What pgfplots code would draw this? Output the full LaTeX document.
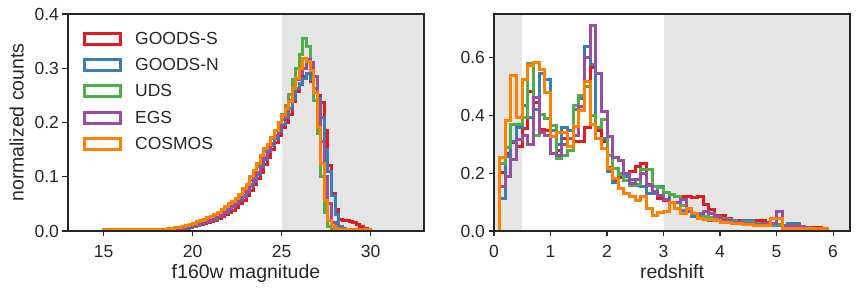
\documentclass[border=0pt]{standalone}
\usepackage{fontspec}
\setmainfont{Liberation Sans}
\usepackage{pgfplots}
\pgfplotsset{compat=1.18}
\definecolor{cRed}{HTML}{E41A1C}
\definecolor{cBlue}{HTML}{377EB8}
\definecolor{cGreen}{HTML}{4DAF4A}
\definecolor{cPurple}{HTML}{984EA3}
\definecolor{cOrange}{HTML}{FF7F00}
\definecolor{txt}{HTML}{262626}
\definecolor{shade}{RGB}{229,229,229}
\pgfplotsset{
  mystyle/.style={
    scale only axis, width=356pt, height=217pt,
    axis on top,
    axis line style={txt, line width=1.1pt},
    tick align=outside, major tick length=5.5pt,
    every tick/.style={txt, line width=1.1pt},
    xtick pos=bottom, ytick pos=left,
    tick label style={font=\fontsize{17.5}{21}\selectfont, text=txt},
    xticklabel style={yshift=-5pt},
    label style={font=\fontsize{19.5}{23}\selectfont, text=txt},
    /pgf/number format/assume math mode=true,
    scaled ticks=false,
    legend image code/.code={\draw[##1] (0pt,-5.5pt) rectangle (36pt,5.5pt);},
  },
  stepline/.style={const plot, line width=3pt, line join=miter, draw=#1},
}
\begin{document}
\begin{tikzpicture}
\useasboundingbox (-68pt,-60pt) rectangle (794pt,231pt);
% ---------------- left panel ----------------
\begin{axis}[mystyle,
  xmin=13, xmax=33, ymin=0, ymax=0.4,
  xtick={15,20,25,30}, ytick={0,0.1,0.2,0.3,0.4},
  yticklabel style={/pgf/number format/.cd, fixed, fixed zerofill, precision=1},
  xlabel={f160w magnitude}, ylabel={normalized counts},
  ylabel shift=4pt,
  legend style={draw=none, fill=none, at={(0,1)}, anchor=north west,
    xshift=12pt, yshift=-14pt, font=\fontsize{17.5}{21}\selectfont, text=txt,
    row sep=8.5pt, /tikz/every odd column/.append style={column sep=11pt}},
  legend cell align=left,
]
\addplot[fill=shade, draw=none, forget plot] coordinates {(25,0) (34,0) (34,0.5) (25,0.5)} -- cycle;
% GOODS-S
\addplot[stepline=cRed] coordinates {(15.0,0) (15.0,0.002) (15.2,0.002) (15.4,0.002) (15.6,0.002) (15.8,0.002) (16.0,0.002) (16.2,0.002) (16.4,0.002) (16.6,0.002) (16.8,0.002) (17.0,0.002) (17.2,0.002) (17.4,0.002) (17.6,0.002) (17.8,0.002) (18.0,0.002) (18.2,0.002) (18.4,0.002) (18.6,0.002) (18.8,0.002) (19.0,0.002) (19.2,0.002) (19.4,0.002) (19.6,0.004) (19.8,0.006) (20.0,0.008) (20.2,0.010) (20.4,0.012) (20.6,0.014) (20.8,0.016) (21.0,0.018) (21.2,0.020) (21.4,0.023) (21.6,0.026) (21.8,0.030) (22.0,0.034) (22.2,0.038) (22.4,0.044) (22.6,0.050) (22.8,0.057) (23.0,0.065) (23.2,0.075) (23.4,0.085) (23.6,0.096) (23.8,0.108) (24.0,0.122) (24.2,0.136) (24.4,0.150) (24.6,0.163) (24.8,0.176) (25.0,0.190) (25.2,0.200) (25.4,0.215) (25.6,0.238) (25.8,0.258) (26.0,0.270) (26.2,0.285) (26.4,0.290) (26.6,0.275) (26.8,0.262) (27.0,0.250) (27.2,0.236) (27.4,0.185) (27.6,0.120) (27.8,0.070) (28.0,0.040) (28.2,0.022) (28.4,0.020) (28.6,0.019) (28.8,0.018) (29.0,0.016) (29.2,0.012) (29.4,0.008) (29.6,0.005) (29.8,0.005) (29.8,0)};
\addlegendentry{GOODS-S}
% GOODS-N
\addplot[stepline=cBlue] coordinates {(15.0,0) (15.0,0.002) (15.2,0.002) (15.4,0.002) (15.6,0.002) (15.8,0.002) (16.0,0.002) (16.2,0.002) (16.4,0.002) (16.6,0.002) (16.8,0.002) (17.0,0.002) (17.2,0.002) (17.4,0.002) (17.6,0.002) (17.8,0.002) (18.0,0.002) (18.2,0.002) (18.4,0.002) (18.6,0.002) (18.8,0.002) (19.0,0.002) (19.2,0.002) (19.4,0.003) (19.6,0.005) (19.8,0.007) (20.0,0.009) (20.2,0.011) (20.4,0.013) (20.6,0.015) (20.8,0.017) (21.0,0.019) (21.2,0.022) (21.4,0.026) (21.6,0.030) (21.8,0.035) (22.0,0.040) (22.2,0.045) (22.4,0.050) (22.6,0.056) (22.8,0.064) (23.0,0.072) (23.2,0.082) (23.4,0.092) (23.6,0.104) (23.8,0.118) (24.0,0.132) (24.2,0.146) (24.4,0.158) (24.6,0.170) (24.8,0.183) (25.0,0.196) (25.2,0.210) (25.4,0.225) (25.6,0.245) (25.8,0.262) (26.0,0.272) (26.2,0.282) (26.4,0.290) (26.6,0.280) (26.8,0.262) (27.0,0.245) (27.2,0.210) (27.4,0.150) (27.6,0.110) (27.8,0.065) (28.0,0.030) (28.2,0.008) (28.4,0.004) (28.6,0.002) (28.8,0.002) (29.0,0.002) (29.2,0.002) (29.4,0.002) (29.6,0.002) (29.8,0.002) (29.8,0)};
\addlegendentry{GOODS-N}
% UDS
\addplot[stepline=cGreen] coordinates {(15.0,0) (15.0,0.002) (15.2,0.002) (15.4,0.002) (15.6,0.002) (15.8,0.002) (16.0,0.002) (16.2,0.002) (16.4,0.002) (16.6,0.002) (16.8,0.002) (17.0,0.002) (17.2,0.002) (17.4,0.002) (17.6,0.002) (17.8,0.002) (18.0,0.002) (18.2,0.002) (18.4,0.002) (18.6,0.002) (18.8,0.002) (19.0,0.004) (19.2,0.005) (19.4,0.006) (19.6,0.008) (19.8,0.010) (20.0,0.012) (20.2,0.014) (20.4,0.016) (20.6,0.018) (20.8,0.020) (21.0,0.022) (21.2,0.026) (21.4,0.030) (21.6,0.035) (21.8,0.040) (22.0,0.045) (22.2,0.050) (22.4,0.055) (22.6,0.063) (22.8,0.072) (23.0,0.082) (23.2,0.094) (23.4,0.106) (23.6,0.118) (23.8,0.132) (24.0,0.146) (24.2,0.158) (24.4,0.170) (24.6,0.185) (24.8,0.200) (25.0,0.215) (25.2,0.232) (25.4,0.252) (25.6,0.280) (25.8,0.300) (26.0,0.325) (26.2,0.354) (26.4,0.340) (26.6,0.300) (26.8,0.240) (27.0,0.180) (27.2,0.100) (27.4,0.035) (27.6,0.008) (27.8,0.003) (28.0,0.002) (28.2,0.002) (28.4,0.002) (28.6,0.002) (28.8,0.002) (29.0,0.002) (29.0,0)};
\addlegendentry{UDS}
% EGS
\addplot[stepline=cPurple] coordinates {(15.2,0) (15.2,0.001) (15.4,0.001) (15.6,0.001) (15.8,0.001) (16.0,0.001) (16.2,0.001) (16.4,0.001) (16.6,0.001) (16.8,0.001) (17.0,0.001) (17.2,0.001) (17.4,0.001) (17.6,0.001) (17.8,0.001) (18.0,0.001) (18.2,0.001) (18.4,0.001) (18.6,0.001) (18.8,0.001) (19.0,0.001) (19.2,0.003) (19.4,0.004) (19.6,0.006) (19.8,0.008) (20.0,0.010) (20.2,0.012) (20.4,0.014) (20.6,0.016) (20.8,0.018) (21.0,0.020) (21.2,0.023) (21.4,0.027) (21.6,0.031) (21.8,0.036) (22.0,0.041) (22.2,0.046) (22.4,0.052) (22.6,0.058) (22.8,0.066) (23.0,0.074) (23.2,0.085) (23.4,0.096) (23.6,0.108) (23.8,0.122) (24.0,0.136) (24.2,0.150) (24.4,0.162) (24.6,0.176) (24.8,0.190) (25.0,0.205) (25.2,0.220) (25.4,0.240) (25.6,0.262) (25.8,0.280) (26.0,0.290) (26.2,0.300) (26.4,0.316) (26.6,0.310) (26.8,0.285) (27.0,0.235) (27.2,0.165) (27.4,0.100) (27.6,0.050) (27.8,0.015) (28.0,0.006) (28.2,0.003) (28.4,0.003) (28.6,0.003) (28.8,0.003) (29.0,0.003) (29.2,0.003) (29.4,0.003) (29.6,0.003) (29.8,0.003) (29.8,0)};
\addlegendentry{EGS}
% COSMOS
\addplot[stepline=cOrange] coordinates {(15.0,0) (15.0,0.003) (15.2,0.003) (15.4,0.003) (15.6,0.003) (15.8,0.003) (16.0,0.003) (16.2,0.003) (16.4,0.003) (16.6,0.003) (16.8,0.003) (17.0,0.003) (17.2,0.003) (17.4,0.003) (17.6,0.003) (17.8,0.003) (18.0,0.003) (18.2,0.003) (18.4,0.003) (18.6,0.004) (18.8,0.005) (19.0,0.006) (19.2,0.007) (19.4,0.008) (19.6,0.010) (19.8,0.012) (20.0,0.014) (20.2,0.017) (20.4,0.020) (20.6,0.021) (20.8,0.024) (21.0,0.027) (21.2,0.030) (21.4,0.034) (21.6,0.040) (21.8,0.046) (22.0,0.050) (22.2,0.054) (22.4,0.060) (22.6,0.068) (22.8,0.078) (23.0,0.086) (23.2,0.100) (23.4,0.112) (23.6,0.125) (23.8,0.140) (24.0,0.152) (24.2,0.160) (24.4,0.172) (24.6,0.186) (24.8,0.200) (25.0,0.212) (25.2,0.225) (25.4,0.238) (25.6,0.262) (25.8,0.282) (26.0,0.300) (26.2,0.318) (26.4,0.312) (26.6,0.296) (26.8,0.255) (27.0,0.190) (27.2,0.125) (27.4,0.057) (27.6,0.020) (27.8,0.008) (28.0,0.004) (28.2,0.003) (28.4,0.003) (28.6,0.003) (28.8,0.003) (29.0,0.003) (29.2,0.003) (29.4,0.003) (29.6,0.003) (29.8,0.002) (30.0,0.002) (30.0,0)};
\addlegendentry{COSMOS}
\end{axis}
% ---------------- right panel ----------------
\begin{axis}[mystyle, at={(426pt,0pt)},
  xmin=0, xmax=6.3, ymin=0, ymax=0.752,
  xtick={0,1,2,3,4,5,6}, ytick={0,0.2,0.4,0.6},
  yticklabel style={/pgf/number format/.cd, fixed, fixed zerofill, precision=1},
  xlabel={redshift},
]
\addplot[fill=shade, draw=none, forget plot] coordinates {(-1,0) (0.5,0) (0.5,1) (-1,1)} -- cycle;
\addplot[fill=shade, draw=none, forget plot] coordinates {(3,0) (7,0) (7,1) (3,1)} -- cycle;
% GOODS-S
\addplot[stepline=cRed] coordinates {(0.1,0) (0.1,0.203) (0.2,0.268) (0.3,0.305) (0.4,0.294) (0.5,0.355) (0.6,0.485) (0.7,0.447) (0.8,0.352) (0.9,0.350) (1.0,0.350) (1.1,0.280) (1.2,0.320) (1.3,0.320) (1.4,0.310) (1.5,0.310) (1.6,0.360) (1.7,0.565) (1.8,0.350) (1.9,0.310) (2.0,0.220) (2.1,0.176) (2.2,0.185) (2.3,0.195) (2.4,0.205) (2.5,0.224) (2.6,0.234) (2.7,0.160) (2.8,0.130) (2.9,0.113) (3.0,0.107) (3.1,0.100) (3.2,0.100) (3.3,0.119) (3.4,0.119) (3.5,0.115) (3.6,0.119) (3.7,0.093) (3.8,0.073) (3.9,0.055) (4.0,0.055) (4.1,0.044) (4.2,0.038) (4.3,0.035) (4.4,0.030) (4.5,0.030) (4.6,0.035) (4.7,0.035) (4.8,0.030) (4.9,0.025) (5.0,0.020) (5.1,0.018) (5.2,0.015) (5.3,0.015) (5.4,0.013) (5.5,0.013) (5.6,0.012) (5.7,0.012) (5.8,0.010) (5.9,0.010) (5.9,0)};
% GOODS-N
\addplot[stepline=cBlue] coordinates {(0.1,0) (0.1,0.113) (0.2,0.258) (0.3,0.310) (0.4,0.360) (0.5,0.435) (0.6,0.395) (0.7,0.420) (0.8,0.547) (0.9,0.524) (1.0,0.350) (1.1,0.300) (1.2,0.358) (1.3,0.350) (1.4,0.420) (1.5,0.460) (1.6,0.640) (1.7,0.576) (1.8,0.320) (1.9,0.320) (2.0,0.205) (2.1,0.168) (2.2,0.200) (2.3,0.188) (2.4,0.178) (2.5,0.159) (2.6,0.153) (2.7,0.130) (2.8,0.130) (2.9,0.153) (3.0,0.110) (3.1,0.128) (3.2,0.118) (3.3,0.070) (3.4,0.068) (3.5,0.050) (3.6,0.042) (3.7,0.040) (3.8,0.035) (3.9,0.040) (4.0,0.045) (4.1,0.035) (4.2,0.035) (4.3,0.030) (4.4,0.035) (4.5,0.035) (4.6,0.025) (4.7,0.025) (4.8,0.025) (4.9,0.020) (5.0,0.020) (5.1,0.015) (5.2,0.025) (5.3,0.025) (5.4,0.015) (5.5,0.012) (5.6,0.010) (5.7,0.010) (5.8,0.008) (5.9,0.008) (5.9,0)};
% UDS
\addplot[stepline=cGreen] coordinates {(0.1,0) (0.1,0.234) (0.2,0.290) (0.3,0.370) (0.4,0.370) (0.5,0.395) (0.6,0.581) (0.7,0.330) (0.8,0.403) (0.9,0.389) (1.0,0.366) (1.1,0.250) (1.2,0.260) (1.3,0.280) (1.4,0.435) (1.5,0.470) (1.6,0.500) (1.7,0.400) (1.8,0.358) (1.9,0.387) (2.0,0.262) (2.1,0.216) (2.2,0.197) (2.3,0.176) (2.4,0.159) (2.5,0.160) (2.6,0.213) (2.7,0.213) (2.8,0.155) (2.9,0.150) (3.0,0.132) (3.1,0.128) (3.2,0.119) (3.3,0.090) (3.4,0.070) (3.5,0.060) (3.6,0.052) (3.7,0.050) (3.8,0.048) (3.9,0.046) (4.0,0.044) (4.1,0.040) (4.2,0.032) (4.3,0.030) (4.4,0.030) (4.5,0.028) (4.6,0.025) (4.7,0.024) (4.8,0.020) (4.9,0.024) (5.0,0.024) (5.1,0.015) (5.2,0.015) (5.3,0.010) (5.4,0.010) (5.5,0.010) (5.6,0.008) (5.7,0.008) (5.8,0.006) (5.9,0.006) (5.9,0)};
% EGS
\addplot[stepline=cPurple] coordinates {(0.1,0) (0.1,0.154) (0.2,0.190) (0.3,0.249) (0.4,0.318) (0.5,0.330) (0.6,0.300) (0.7,0.464) (0.8,0.343) (0.9,0.330) (1.0,0.270) (1.1,0.260) (1.2,0.300) (1.3,0.320) (1.4,0.330) (1.5,0.430) (1.6,0.600) (1.7,0.712) (1.8,0.547) (1.9,0.414) (2.0,0.326) (2.1,0.254) (2.2,0.245) (2.3,0.200) (2.4,0.165) (2.5,0.178) (2.6,0.200) (2.7,0.159) (2.8,0.136) (2.9,0.124) (3.0,0.110) (3.1,0.100) (3.2,0.100) (3.3,0.110) (3.4,0.070) (3.5,0.062) (3.6,0.060) (3.7,0.067) (3.8,0.060) (3.9,0.050) (4.0,0.040) (4.1,0.035) (4.2,0.030) (4.3,0.030) (4.4,0.025) (4.5,0.025) (4.6,0.022) (4.7,0.022) (4.8,0.025) (4.9,0.025) (5.0,0.069) (5.1,0.020) (5.2,0.020) (5.3,0.020) (5.4,0.015) (5.5,0.010) (5.6,0.010) (5.7,0.010) (5.8,0.008) (5.9,0.008) (5.9,0)};
% COSMOS
\addplot[stepline=cOrange] coordinates {(0.1,0) (0.1,0.253) (0.2,0.383) (0.3,0.539) (0.4,0.395) (0.5,0.524) (0.6,0.573) (0.7,0.583) (0.8,0.560) (0.9,0.481) (1.0,0.326) (1.1,0.340) (1.2,0.340) (1.3,0.294) (1.4,0.363) (1.5,0.418) (1.6,0.518) (1.7,0.370) (1.8,0.320) (1.9,0.286) (2.0,0.216) (2.1,0.182) (2.2,0.147) (2.3,0.130) (2.4,0.119) (2.5,0.107) (2.6,0.119) (2.7,0.078) (2.8,0.055) (2.9,0.064) (3.0,0.067) (3.1,0.098) (3.2,0.078) (3.3,0.059) (3.4,0.078) (3.5,0.061) (3.6,0.044) (3.7,0.041) (3.8,0.041) (3.9,0.038) (4.0,0.030) (4.1,0.029) (4.2,0.027) (4.3,0.025) (4.4,0.024) (4.5,0.022) (4.6,0.020) (4.7,0.020) (4.8,0.020) (4.9,0.044) (5.0,0.044) (5.1,0.008) (5.2,0.008) (5.3,0.008) (5.4,0.008) (5.5,0.008) (5.6,0.008) (5.7,0.008) (5.8,0.008) (5.9,0.008) (5.9,0)};
\end{axis}
\end{tikzpicture}
\end{document}
